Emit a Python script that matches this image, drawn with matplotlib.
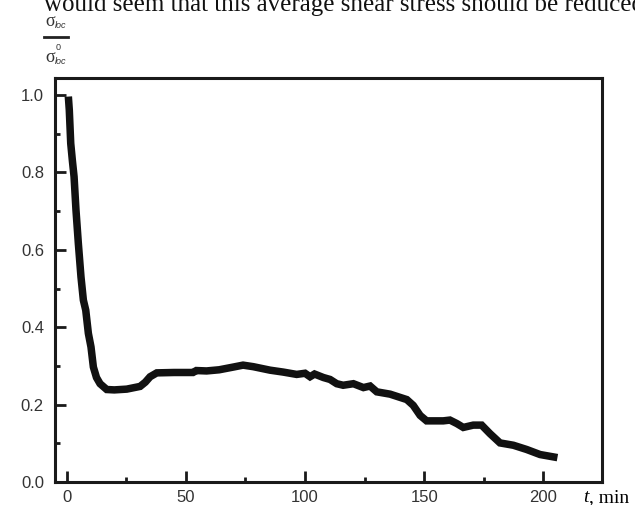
import matplotlib

matplotlib.use("Agg")
import matplotlib.pyplot as plt  # noqa: E402
from matplotlib.ticker import MultipleLocator  # noqa: E402

# time, min
t_min = [0.7, 1.1, 1.7, 2.4, 3.1, 3.9, 4.9, 6.0, 7.0, 8.0, 9.1, 10.2, 11.2, 12.5,
         14.0, 16.8, 20.0, 25.2, 30.8, 33.0, 35.0, 37.8, 45.0, 53.0, 54.4, 58.7,
         64.0, 69.9, 74.0, 78.3, 85.3, 90.9, 96.5, 100.0, 102.1, 104.0, 107.7,
         110.5, 113.3, 116.0, 120.3, 124.5, 127.3, 130.1, 135.7, 142.7, 145.4,
         148.3, 151.0, 158.0, 160.8, 163.7, 166.4, 170.6, 174.1, 177.6, 181.8,
         187.4, 193.0, 198.6, 205.9]
# sigma_loc / sigma_loc^0
stress_ratio = [0.996, 0.961, 0.875, 0.830, 0.789, 0.703, 0.616, 0.530, 0.470,
                0.444, 0.384, 0.349, 0.297, 0.270, 0.254, 0.239, 0.238, 0.240,
                0.247, 0.258, 0.272, 0.282, 0.283, 0.283, 0.288, 0.287, 0.290,
                0.297, 0.302, 0.298, 0.289, 0.284, 0.278, 0.281, 0.272, 0.279,
                0.270, 0.265, 0.254, 0.250, 0.254, 0.244, 0.248, 0.233, 0.227,
                0.213, 0.198, 0.172, 0.158, 0.158, 0.160, 0.151, 0.141, 0.147,
                0.147, 0.125, 0.101, 0.095, 0.084, 0.071, 0.063]

x_ticks = [0, 50, 100, 150, 200]
y_ticks = [0.0, 0.2, 0.4, 0.6, 0.8, 1.0]

W, H = 635, 505
fig = plt.figure(figsize=(W / 100, H / 100), dpi=100)
ax = fig.add_axes([55 / W, 1 - 482 / H, (602 - 55) / W, (482 - 78) / H])

ax.plot(t_min, stress_ratio, color="#111111", lw=5.4, solid_capstyle="butt",
        solid_joinstyle="miter")

ax.set_xlim(-4.9, 224.6)
ax.set_ylim(0, 1.044)
ax.set_xticks(x_ticks)
ax.set_yticks(y_ticks)
ax.set_xticklabels([str(v) for v in x_ticks])
ax.set_yticklabels([f"{v:.1f}" for v in y_ticks])
ax.xaxis.set_minor_locator(MultipleLocator(25))
ax.yaxis.set_minor_locator(MultipleLocator(0.1))

for side in ["left", "right", "top", "bottom"]:
    ax.spines[side].set_linewidth(2.2)
    ax.spines[side].set_color("#1a1a1a")

ax.tick_params(which="both", direction="in", top=False, right=False,
               color="#1a1a1a", width=2.0)
ax.tick_params(which="major", length=8, labelsize=12, labelcolor="#333333")
ax.tick_params(axis="x", which="major", pad=6)
ax.tick_params(axis="y", which="major", pad=8)
ax.tick_params(which="minor", length=3.5)
for lbl in ax.get_xticklabels() + ax.get_yticklabels():
    lbl.set_fontfamily("Liberation Sans")

# x-axis label at the right end
fig.text(583 / W, 1 - 498 / H, "t", fontfamily="Liberation Serif",
         fontstyle="italic", fontsize=14, ha="left", va="center")
fig.text(589 / W, 1 - 498 / H, ", min", fontfamily="Liberation Serif",
         fontsize=14, ha="left", va="center")

# y-axis label as a fraction above the axis
sig = dict(fontfamily="Liberation Serif", fontsize=13, color="#333333",
           ha="center", va="center")
small = dict(fontfamily="Liberation Sans", fontsize=6.5, fontstyle="italic",
             color="#333333", ha="left", va="center")
fig.text(50 / W, 1 - 21 / H, "σ", **sig)
fig.text(55 / W, 1 - 26 / H, "loc", **small)
fig.add_artist(plt.Line2D([44 / W, 68 / W], [1 - 37 / H, 1 - 37 / H],
                          color="#222222", lw=2.0))
fig.text(50 / W, 1 - 57 / H, "σ", **sig)
fig.text(55 / W, 1 - 62 / H, "loc", **small)
fig.text(56 / W, 1 - 48 / H, "0", fontfamily="Liberation Sans", fontsize=6.5,
         color="#333333", ha="left", va="center")

# clipped line of body text from the page above the figure
fig.text(44 / W, 1 - 11 / H,
         "would seem that this average shear stress should be reduced",
         fontfamily="Liberation Serif", fontsize=18, ha="left",
         va="baseline", color="#111111")

fig.savefig("out.png", dpi=100)
